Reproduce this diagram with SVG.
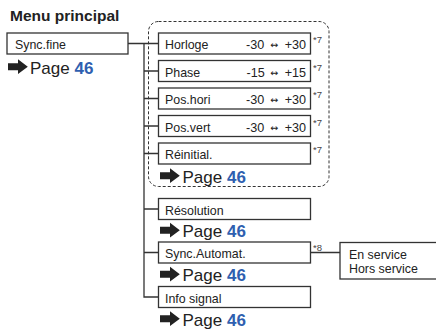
<svg xmlns="http://www.w3.org/2000/svg" xmlns:xlink="http://www.w3.org/1999/xlink" width="436" height="330" viewBox="0 0 436 330">
<style>
.box{fill:#fff;stroke:#333;stroke-width:1.3}
.lbl{font-family:"Liberation Sans",Arial,sans-serif;font-size:12.4px;fill:#222}
.rng{font-family:"Liberation Sans",Arial,sans-serif;font-size:12.6px;fill:#222}
.ar{font-family:"DejaVu Sans",sans-serif;font-size:9.5px;fill:#222}
.sup{font-family:"Liberation Sans",Arial,sans-serif;font-size:9.5px;fill:#444}
.pg{font-family:"Liberation Sans",Arial,sans-serif;font-size:17px;fill:#222}
.pg tspan{font-weight:bold;fill:#2f5fb0}
.ttl{font-family:"Liberation Sans",Arial,sans-serif;font-size:15.5px;font-weight:bold;fill:#222}
.ln{fill:none;stroke:#333;stroke-width:1.3}
.dash{fill:none;stroke:#333;stroke-width:1;stroke-dasharray:3 2}
</style>
<defs>
<path id="arr" d="M0,-10.3 H10 V-14.2 L19.8,-6.8 L10,0.6 V-3.3 H0 Z" fill="#222"/>
</defs>
<rect width="436" height="330" fill="#fff"/>
<text class="ttl" x="10" y="20.5">Menu principal</text>

<g id="group-sync">
<rect class="dash" x="148.5" y="21.5" width="180.5" height="165" rx="10"/>
</g>

<g id="connectors">
<path class="ln" d="M128,43.5 H158.5 M144,43.5 V297 H158.5 M144,71 H158.5 M144,98.5 H158.5 M144,126 H158.5 M144,153.5 H158.5 M144,209 H158.5 M144,252.5 H158.5 M310.5,252.5 H340"/>
</g>

<g id="sync-fine">
<rect class="box" x="7" y="33" width="121" height="21"/>
<text class="lbl" x="15" y="49">Sync.fine</text>
<use xlink:href="#arr" x="8" y="73.5"/>
<text class="pg" x="30" y="73.5">Page <tspan>46</tspan></text>
</g>

<g id="horloge">
<rect class="box" x="158.5" y="33" width="152" height="21"/>
<text class="lbl" x="165" y="49">Horloge</text>
<text class="rng" x="246" y="49">-30</text>
<text class="ar" x="274.5" y="48" text-anchor="middle">↔</text>
<text class="rng" x="306" y="49" text-anchor="end">+30</text>
<text class="sup" x="313" y="43">*7</text>
</g>

<g id="phase">
<rect class="box" x="158.5" y="60.5" width="152" height="21"/>
<text class="lbl" x="165" y="76.5">Phase</text>
<text class="rng" x="246.5" y="76.5">-15</text>
<text class="ar" x="274.5" y="75.5" text-anchor="middle">↔</text>
<text class="rng" x="306" y="76.5" text-anchor="end">+15</text>
<text class="sup" x="313" y="70.5">*7</text>
</g>

<g id="pos-hori">
<rect class="box" x="158.5" y="88" width="152" height="21"/>
<text class="lbl" x="165" y="104">Pos.hori</text>
<text class="rng" x="246" y="104">-30</text>
<text class="ar" x="274.5" y="103" text-anchor="middle">↔</text>
<text class="rng" x="306" y="104" text-anchor="end">+30</text>
<text class="sup" x="313" y="98">*7</text>
</g>

<g id="pos-vert">
<rect class="box" x="158.5" y="115.5" width="152" height="21"/>
<text class="lbl" x="165" y="131.5">Pos.vert</text>
<text class="rng" x="246" y="131.5">-30</text>
<text class="ar" x="274.5" y="130.5" text-anchor="middle">↔</text>
<text class="rng" x="306" y="131.5" text-anchor="end">+30</text>
<text class="sup" x="313" y="125.5">*7</text>
</g>

<g id="reinitial">
<rect class="box" x="158.5" y="143" width="152" height="21"/>
<text class="lbl" x="165" y="159">Réinitial.</text>
<text class="sup" x="313" y="153">*7</text>
<use xlink:href="#arr" x="160" y="182.5"/>
<text class="pg" x="182.5" y="182.5">Page <tspan>46</tspan></text>
</g>

<g id="resolution">
<rect class="box" x="158.5" y="198.5" width="152" height="21"/>
<text class="lbl" x="165" y="214.5">Résolution</text>
<use xlink:href="#arr" x="160" y="237"/>
<text class="pg" x="182.5" y="237">Page <tspan>46</tspan></text>
</g>

<g id="sync-automat">
<rect class="box" x="158.5" y="242" width="152" height="21"/>
<text class="lbl" x="165" y="258">Sync.Automat.</text>
<text class="sup" x="313" y="250.5">*8</text>
<use xlink:href="#arr" x="160" y="281"/>
<text class="pg" x="182.5" y="281">Page <tspan>46</tspan></text>
</g>

<g id="info-signal">
<rect class="box" x="158.5" y="286.5" width="152" height="21"/>
<text class="lbl" x="165" y="302.5">Info signal</text>
<use xlink:href="#arr" x="160" y="325.5"/>
<text class="pg" x="182.5" y="325.5">Page <tspan>46</tspan></text>
</g>

<g id="en-service">
<rect class="box" x="340" y="242.5" width="100" height="36.5"/>
<text class="lbl" x="349" y="258.5">En service</text>
<text class="lbl" x="349" y="272.5">Hors service</text>
</g>
</svg>
